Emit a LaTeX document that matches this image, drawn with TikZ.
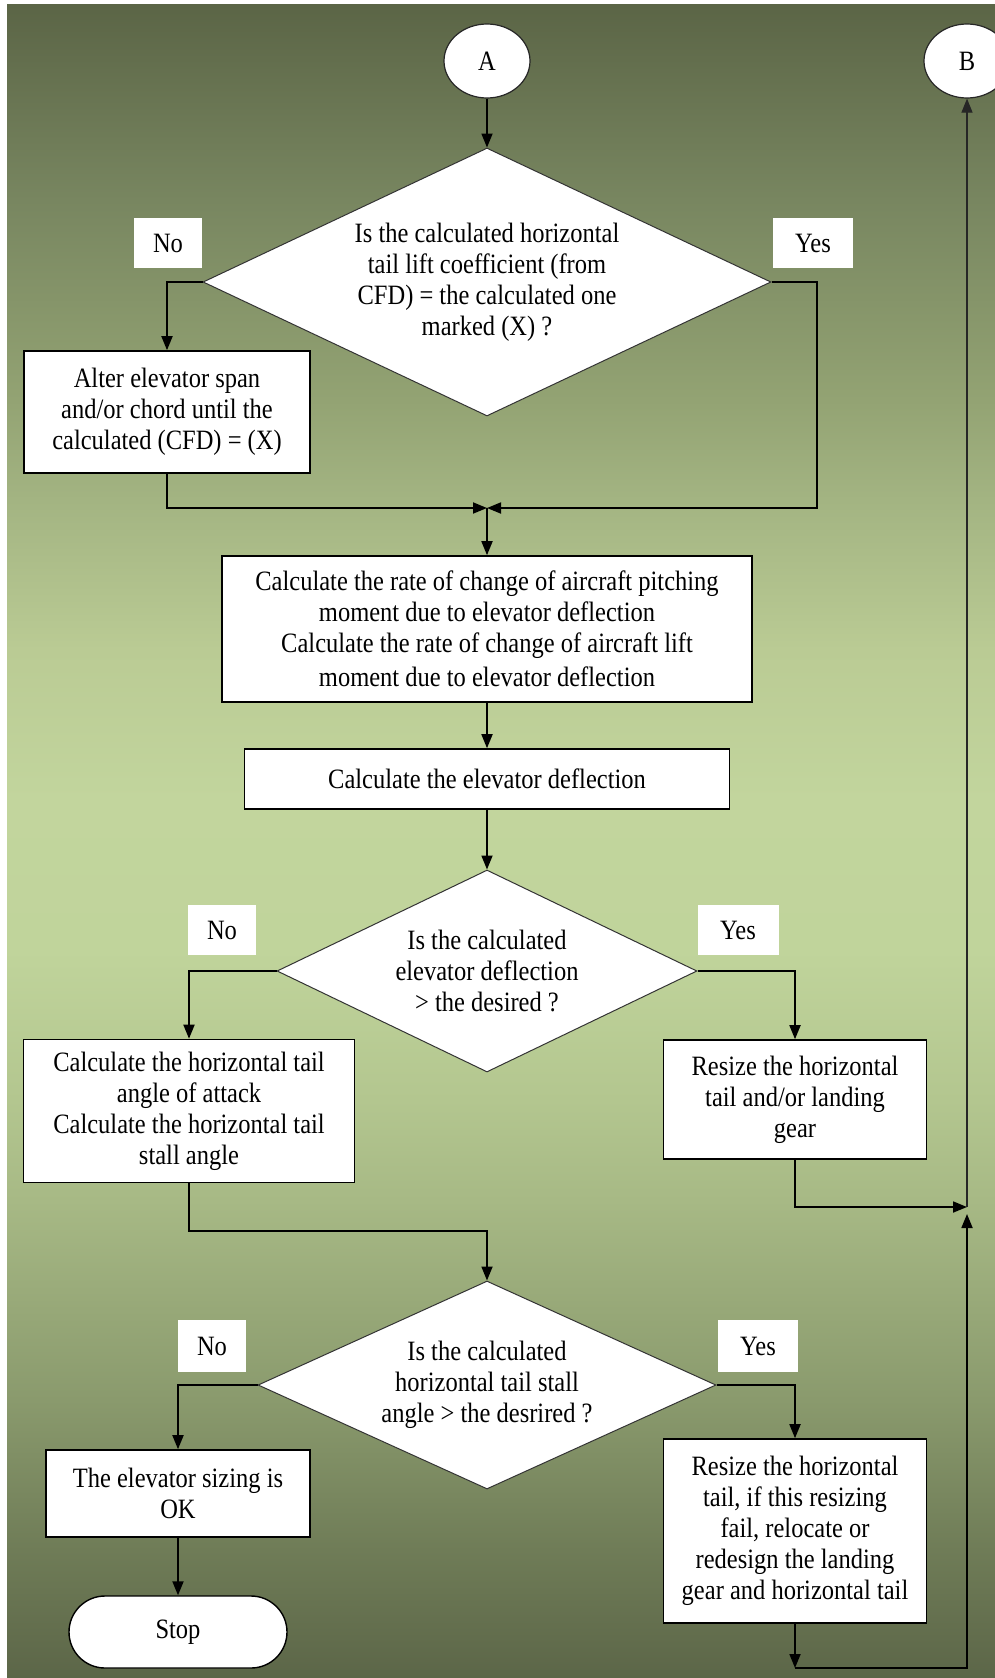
\documentclass[tikz,border=0pt]{standalone}
\usepackage{fontspec}
\setmainfont{Liberation Serif}[FakeStretch=0.875]
\usetikzlibrary{shapes.geometric,arrows.meta}
\definecolor{s0}{HTML}{5B6546}
\definecolor{s1}{HTML}{788660}
\definecolor{s2}{HTML}{93A373}
\definecolor{s3}{HTML}{A3B482}
\definecolor{s4}{HTML}{BACB94}
\definecolor{s5}{HTML}{C2D59D}
\definecolor{s6}{HTML}{C0D49B}
\definecolor{s7}{HTML}{B3C68F}
\definecolor{s8}{HTML}{A7B985}
\definecolor{s9}{HTML}{8A9A6D}
\definecolor{s10}{HTML}{6F7C57}
\definecolor{s11}{HTML}{5C6648}
\pgfdeclareverticalshading{bgshade}{100bp}{color(0bp)=(s11); color(25bp)=(s11); color(28.83bp)=(s10); color(33.31bp)=(s9); color(39.28bp)=(s8); color(42.27bp)=(s7); color(46.76bp)=(s6); color(51.24bp)=(s5); color(55.72bp)=(s4); color(60.21bp)=(s3); color(63.19bp)=(s2); color(69.17bp)=(s1); color(75bp)=(s0); color(100bp)=(s0)}
\tikzset{
  box/.style={draw=black, line width=1.6pt, fill=white, align=center, inner sep=0pt},
  dia/.style={diamond, draw=black!80, line width=1pt, fill=white, align=center, inner sep=0pt},
  lbl/.style={fill=white, inner sep=0pt, minimum height=50pt},
  ell/.style={ellipse, draw=black!85, line width=1.2pt, fill=white, minimum width=86pt, minimum height=74pt, inner sep=0pt},
  stopbox/.style={draw=black, line width=1.4pt, fill=white, rounded corners=36pt, minimum width=218pt, minimum height=72pt, inner sep=0pt},
  arr/.style={draw=black, line width=1.8pt, -{Triangle[length=14pt,width=11pt]}},
  thinarr/.style={draw=black!85, line width=1.2pt, -{Triangle[length=14pt,width=11pt]}}
}
\begin{document}
\begin{tikzpicture}[x=1pt,y=-1pt,font=\fontsize{28}{31}\selectfont]
\useasboundingbox (0,0) rectangle (995,1678);
\fill[white] (0,0) rectangle (995,1678);
\fill[shading=bgshade] (7,5) rectangle (995,1678);

\node[ell] (A) at (487,61) {A};
\node[ell] (B) at (967,61) {B};
\node[dia, aspect=2.12, minimum width=568pt, minimum height=268pt] (d1) at (487,282) {Is the calculated horizontal\\tail lift coefficient (from\\CFD) = the calculated one\\marked (X) ?};
\node[lbl, minimum width=68pt] (no1) at (168,243) {No};
\node[lbl, minimum width=80pt] (yes1) at (813,243) {Yes};
\node[box, minimum width=286pt, minimum height=122pt] (alter) at (167,412) {Alter elevator span\\and/or chord until the\\calculated (CFD) = (X)};
\coordinate (m1) at (487,508);
\coordinate (r1) at (817,508);
\node[box, minimum width=530pt, minimum height=146pt] (rate) at (487,629) {Calculate the rate of change of aircraft pitching\\moment due to elevator deflection\\Calculate the rate of change of aircraft lift\\[3pt]moment due to elevator deflection};
\node[box, minimum width=485pt, minimum height=60pt] (defl) at (487,779) {Calculate the elevator deflection};
\node[dia, aspect=2.08, minimum width=420pt, minimum height=202pt] (d2) at (487,971) {Is the calculated\\elevator deflection\\> the desired ?};
\node[lbl, minimum width=68pt] (no2) at (222,930) {No};
\node[lbl, minimum width=81pt] (yes2) at (738,930) {Yes};
\node[box, minimum width=331pt, minimum height=143pt] (aoa) at (189,1111) {Calculate the horizontal tail\\angle of attack\\Calculate the horizontal tail\\stall angle};
\node[box, minimum width=263pt, minimum height=119pt] (res1) at (795,1099.5) {Resize the horizontal\\tail and/or landing\\gear};
\coordinate (j1) at (967,1207);
\coordinate (k1) at (189,1231);
\node[dia, aspect=2.2, minimum width=458pt, minimum height=208pt] (d3) at (487,1385) {Is the calculated\\horizontal tail stall\\angle > the desrired ?};
\node[lbl, minimum width=68pt, minimum height=52pt] (no3) at (212,1346) {No};
\node[lbl, minimum width=80pt, minimum height=52pt] (yes3) at (758,1346) {Yes};
\node[box, minimum width=264pt, minimum height=87pt] (ok) at (178,1493.5) {The elevator sizing is\\OK};
\node[box, minimum width=263pt, minimum height=184pt] (res2) at (795,1531) {Resize the horizontal\\tail, if this resizing\\fail, relocate or\\redesign the landing\\gear and horizontal tail};
\node[stopbox] (stop) at (178,1632) {Stop};
\coordinate (c1) at (795,1668);
\coordinate (c2) at (967,1668);
\coordinate (c3) at (967,1214);

\draw[arr] (A.south) -- (d1.north);
\draw[arr] (d1.west) -| (alter.north);
\draw[arr] (d1.east) -| (r1) -- (m1);
\draw[arr] (alter.south) |- (m1);
\draw[arr] (m1) -- (rate.north);
\draw[arr] (rate.south) -- (defl.north);
\draw[arr] (defl.south) -- (d2.north);
\draw[arr] (d2.west) -| (aoa.north);
\draw[arr] (d2.east) -| (res1.north);
\draw[arr] (aoa.south) -- (k1) -| (d3.north);
\draw[arr] (d3.west) -| (ok.north);
\draw[arr] (d3.east) -| (res2.north);
\draw[arr] (ok.south) -- (stop.north);
\draw[arr] (res1.south) |- (j1);
\draw[thinarr] (j1) -- (B.south);
\draw[arr] (res2.south) -- (c1);
\draw[arr] (c1) -- (c2) -- (c3);
\end{tikzpicture}
\end{document}
